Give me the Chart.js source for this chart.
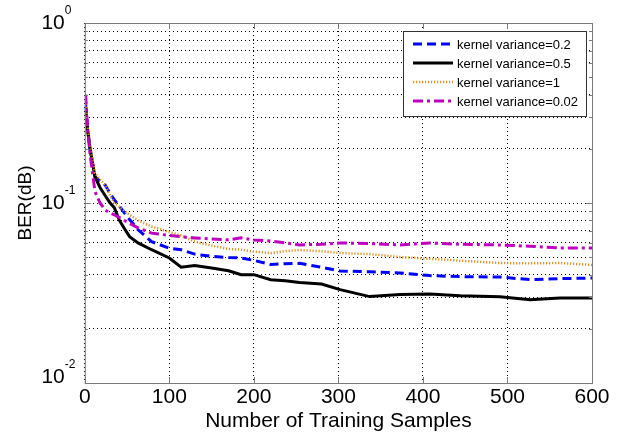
<!DOCTYPE html>
<html>
<head>
<meta charset="utf-8">
<title>BER vs training samples</title>
<script src="https://cdn.jsdelivr.net/npm/chart.js@4.4.1/dist/chart.umd.min.js"></script>
<style>
    html, body { margin: 0; padding: 0; background: #ffffff; }
    #wrap { width: 633px; height: 439px; }
</style>
</head>
<body>
<div id="wrap"><canvas id="berChart"></canvas></div>
<script>
/* ================================
   BER CURVES PER KERNEL VARIANCE
   ================================ */

// Sample positions (number of training samples)
const samples = [1, 3, 6, 12, 18, 24, 30, 35, 41, 47, 53, 63, 79, 100, 114, 130, 150, 170, 185, 200,
                 220, 237, 254, 280, 302, 337, 373, 408, 444, 491, 527, 562, 600];

// BER values
const berVar02 = [0.35, 0.27, 0.2, 0.14, 0.132, 0.126, 0.113, 0.104, 0.096, 0.088, 0.081, 0.071, 0.061, 0.056, 0.055, 0.052, 0.0505, 0.0498, 0.0495, 0.048,
                  0.0455, 0.046, 0.0462, 0.044, 0.0419, 0.0415, 0.0409, 0.0395, 0.039, 0.0388, 0.0375, 0.038, 0.0383];
const berVar05 = [0.34, 0.26, 0.205, 0.14, 0.122, 0.11, 0.1, 0.094, 0.08, 0.072, 0.065, 0.06, 0.055, 0.0495, 0.044, 0.045, 0.0435, 0.042, 0.04, 0.04,
                  0.0375, 0.037, 0.0362, 0.0355, 0.033, 0.0302, 0.031, 0.0312, 0.0305, 0.0301, 0.029, 0.0297, 0.0297];
const berVar1 = [0.37, 0.28, 0.21, 0.147, 0.135, 0.126, 0.11, 0.1, 0.095, 0.09, 0.086, 0.08, 0.074, 0.069, 0.066, 0.061, 0.058, 0.0555, 0.055, 0.0537,
                 0.0527, 0.054, 0.0548, 0.054, 0.0527, 0.052, 0.0501, 0.049, 0.0478, 0.0464, 0.0462, 0.0464, 0.0453];
const berVar002 = [0.40, 0.27, 0.19, 0.116, 0.1, 0.0915, 0.088, 0.086, 0.083, 0.08, 0.077, 0.0727, 0.068, 0.066, 0.065, 0.064, 0.063, 0.0625, 0.064, 0.0623,
                   0.0615, 0.06, 0.0585, 0.059, 0.06, 0.0595, 0.0585, 0.06, 0.059, 0.0585, 0.0575, 0.0562, 0.0562];

const seriesLabels = ['kernel variance=0.2', 'kernel variance=0.5', 'kernel variance=1', 'kernel variance=0.02'];

// Axis ticks
const xTicks = [0, 100, 200, 300, 400, 500, 600];
const yTicks = [0.01, 0.02, 0.03, 0.04, 0.05, 0.06, 0.07, 0.08, 0.09,
                0.1, 0.2, 0.3, 0.4, 0.5, 0.6, 0.7, 0.8, 0.9, 1];

const FONT = "'Liberation Sans', Arial, sans-serif";

document.addEventListener('DOMContentLoaded', function() {
    initializeBerChart();
});

// Pair x positions with values
function toPoints(values) {
    return values.map((v, i) => ({ x: samples[i], y: v }));
}

function isDecade(v) {
    return Math.abs(Math.log10(v) - Math.round(Math.log10(v))) < 1e-9;
}

// Box around plot, inner tick marks, 10^n labels on y, legend
const matlabLook = {
    id: 'matlabLook',
    afterDraw(chart) {
        const ctx = chart.ctx;
        const area = chart.chartArea;
        const xScale = chart.scales.x;
        const yScale = chart.scales.y;

        ctx.save();
        // plot box
        ctx.strokeStyle = '#7a7a7a';
        ctx.lineWidth = 1;
        ctx.setLineDash([]);
        ctx.strokeRect(area.left + 0.5, area.top + 0.5, area.right - area.left, area.bottom - area.top);

        // inner tick marks, MATLAB style
        ctx.beginPath();
        yTicks.forEach(v => {
            const y = Math.round(yScale.getPixelForValue(v)) + 0.5;
            const len = isDecade(v) ? 6 : 3;
            ctx.moveTo(area.left, y); ctx.lineTo(area.left + len, y);
            ctx.moveTo(area.right, y); ctx.lineTo(area.right - len, y);
        });
        xTicks.forEach(v => {
            const x = Math.round(xScale.getPixelForValue(v)) + 0.5;
            ctx.moveTo(x, area.bottom); ctx.lineTo(x, area.bottom - 6);
            ctx.moveTo(x, area.top); ctx.lineTo(x, area.top + 6);
        });
        ctx.stroke();

        // y labels as 10 with superscript exponent
        ctx.fillStyle = '#000';
        ctx.textBaseline = 'middle';
        yTicks.filter(isDecade).forEach(v => {
            const y = Math.min(yScale.getPixelForValue(v), area.bottom - 6);
            ctx.font = '21px ' + FONT;
            ctx.textAlign = 'right';
            ctx.fillText('10', area.left - 20, y);
            ctx.font = '12px ' + FONT;
            ctx.textAlign = 'left';
            ctx.fillText(String(Math.round(Math.log10(v))), area.left - 20, y - 12);
        });

        // legend box
        const boxW = 183, boxH = 85;
        const bx = area.right - 6 - boxW;
        const by = area.top + 8;
        ctx.fillStyle = '#fff';
        ctx.fillRect(bx, by, boxW, boxH);
        ctx.strokeStyle = '#333';
        ctx.strokeRect(bx + 0.5, by + 0.5, boxW, boxH);

        ctx.font = '13px ' + FONT;
        ctx.textAlign = 'left';
        chart.data.datasets.forEach((ds, i) => {
            const ry = by + 13 + i * 19;
            ctx.strokeStyle = ds.borderColor;
            ctx.lineWidth = ds.borderWidth;
            ctx.setLineDash(ds.borderDash || []);
            ctx.beginPath();
            ctx.moveTo(bx + 10, ry);
            ctx.lineTo(bx + 50, ry);
            ctx.stroke();
            ctx.setLineDash([]);
            ctx.fillStyle = '#000';
            ctx.fillText(ds.label, bx + 54, ry + 1);
        });
        ctx.restore();
    }
};

// Initialize BER chart
function initializeBerChart() {
    const ctx = document.getElementById('berChart');

    if (!ctx) return;

    new Chart(ctx, {
        type: 'line',
        data: {
            datasets: [{
                label: seriesLabels[0],
                data: toPoints(berVar02),
                borderColor: '#0000ff',
                borderWidth: 3,
                borderDash: [9, 5],
                order: 4
            }, {
                label: seriesLabels[1],
                data: toPoints(berVar05),
                borderColor: '#000000',
                borderWidth: 3,
                order: 3
            }, {
                label: seriesLabels[2],
                data: toPoints(berVar1),
                borderColor: '#dd8f20',
                borderWidth: 2.5,
                borderDash: [1.2, 1.8],
                order: 2
            }, {
                label: seriesLabels[3],
                data: toPoints(berVar002),
                borderColor: '#bf00bf',
                borderWidth: 3,
                borderDash: [10, 4, 3, 4],
                order: 1
            }]
        },
        options: {
            responsive: true,
            maintainAspectRatio: false,
            animation: false,
            elements: {
                point: { radius: 0 },
                line: { tension: 0, fill: false }
            },
            layout: {
                padding: { left: 10, right: 41, top: 23, bottom: 3 }
            },
            plugins: {
                legend: { display: false },
                tooltip: { enabled: false }
            },
            scales: {
                x: {
                    type: 'linear',
                    min: 0,
                    max: 600,
                    afterBuildTicks: function(scale) {
                        scale.ticks = xTicks.map(v => ({ value: v }));
                    },
                    ticks: {
                        color: '#000',
                        padding: 3.5,
                        maxRotation: 0,
                        font: { family: FONT, size: 21, lineHeight: 1 }
                    },
                    grid: {
                        color: '#000',
                        lineWidth: 1,
                        drawTicks: false
                    },
                    border: { display: false, dash: [1, 3] },
                    title: {
                        display: true,
                        text: 'Number of Training Samples',
                        color: '#000',
                        padding: { top: 0, bottom: 4 },
                        font: { family: FONT, size: 21, lineHeight: 1 }
                    }
                },
                y: {
                    type: 'logarithmic',
                    min: 0.01,
                    max: 1,
                    afterBuildTicks: function(scale) {
                        scale.ticks = yTicks.map(v => ({ value: v }));
                    },
                    ticks: { display: false },
                    grid: {
                        color: '#000',
                        lineWidth: 1,
                        drawTicks: false
                    },
                    border: { display: false, dash: [1, 3] },
                    title: {
                        display: true,
                        text: 'BER(dB)',
                        color: '#000',
                        padding: { top: 4, bottom: 48 },
                        font: { family: FONT, size: 19 }
                    }
                }
            }
        },
        plugins: [matlabLook]
    });
}
</script>
</body>
</html>
